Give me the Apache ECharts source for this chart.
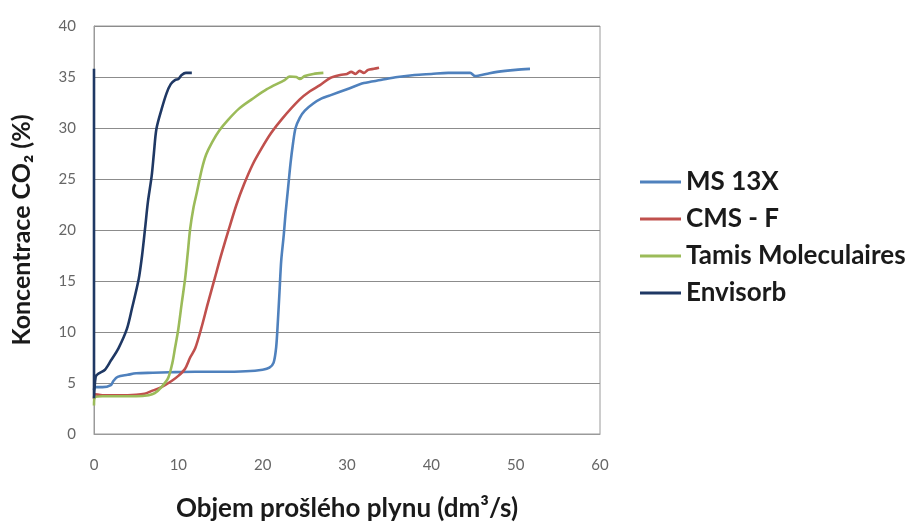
<!DOCTYPE html>
<html><head><meta charset="utf-8">
<script src="https://cdn.jsdelivr.net/npm/echarts@6/dist/echarts.min.js"></script>
<style>html,body{margin:0;padding:0;background:#fff}#c{width:908px;height:527px}</style>
</head><body><div id="c"></div>
<script>
const seriesNames = ['MS 13X', 'CMS - F', 'Tamis Moleculaires', 'Envisorb'];
const seriesColors = ['#4F81BD', '#C0504D', '#9BBB59', '#1F3864'];
const xTicks = [0, 10, 20, 30, 40, 50, 60];
const yTicks = [0, 5, 10, 15, 20, 25, 30, 35, 40];
const ms13x = [[0,4.3],[0.1,4.6],[1,4.6],[2,4.8],[2.3,5.2],[2.8,5.6],[4,5.8],[5,5.95],[7,6.0],[9,6.05],[12,6.1],[15,6.1],[18,6.15],[20,6.3],[20.8,6.5],[21.3,7.0],[21.6,8.5],[21.8,11],[22.0,14],[22.2,17],[22.5,19.5],[22.7,21.5],[23,24],[23.3,26.5],[23.6,28.5],[23.9,30],[24.4,31],[25,31.7],[26,32.4],[27,32.9],[28,33.2],[30,33.8],[32,34.4],[34,34.7],[36,35],[38,35.2],[40,35.3],[42,35.4],[44.6,35.4],[45.2,35.1],[46.5,35.3],[47.8,35.5],[50,35.7],[51.7,35.8]];
const cmsF = [[0,3.4],[0.1,3.9],[1,3.8],[3,3.8],[5,3.85],[6,3.95],[6.8,4.2],[8,4.6],[9.2,5.2],[10,5.7],[10.8,6.4],[11.4,7.5],[12,8.4],[12.7,10.3],[13.5,12.8],[14.3,15.2],[15.1,17.6],[16,20.1],[16.9,22.5],[17.8,24.5],[18.8,26.4],[19.8,27.9],[21,29.5],[22.3,30.9],[24.4,32.8],[25.6,33.6],[26.8,34.2],[28,34.9],[29.2,35.2],[30,35.3],[30.5,35.5],[31,35.3],[31.5,35.6],[32,35.4],[32.5,35.7],[33.2,35.8],[33.8,35.9]];
const tamis = [[0,2.8],[0.1,3.6],[1,3.7],[3,3.7],[5,3.7],[6.5,3.8],[7.2,4.0],[8,4.6],[8.8,5.5],[9.3,7],[9.6,8.4],[10.0,10.3],[10.4,12.8],[10.8,15.2],[11.1,17.6],[11.4,20.1],[11.8,22.2],[12.2,23.7],[12.8,26],[13.3,27.4],[14,28.6],[14.9,29.8],[15.9,30.8],[17.2,31.9],[18.7,32.8],[20.5,33.8],[22.6,34.7],[23.2,35.05],[24.0,35.0],[24.4,34.8],[25,35.1],[26,35.3],[27.2,35.4]];
const envisorb = [[0,35.8],[0,3.5],[0.2,5.6],[0.5,5.9],[1.3,6.3],[2,7.2],[2.9,8.4],[3.9,10.3],[4.5,12.3],[5.3,15.2],[5.7,17.5],[6.05,20.1],[6.4,22.8],[6.84,25.3],[7.1,27.5],[7.4,29.9],[8.0,31.8],[8.6,33.4],[9.1,34.3],[9.6,34.7],[10.0,34.8],[10.4,35.2],[10.9,35.4],[11.6,35.4]];
const allData = [ms13x, cmsF, tamis, envisorb];
const xTitle = 'Objem prošlého plynu (dm³/s)';
const yTitle = 'Koncentrace CO₂ (%)';

const FONT = 'Lato';
const chart = echarts.init(document.getElementById('c'), null, {renderer: 'canvas'});
chart.setOption({
  animation: false,
  backgroundColor: '#fff',
  grid: {left: 94, right: 308, top: 26, bottom: 91, show: true, borderColor: '#9a9a9a', borderWidth: 1},
  legend: {
    orient: 'vertical', left: 640, top: 169, itemWidth: 41, itemHeight: 3, itemGap: 11,
    icon: 'rect', padding: 0,
    data: seriesNames,
    textStyle: {fontFamily: FONT, fontWeight: 'bold', fontSize: 26, lineHeight: 26, color: '#1a1a1a'}
  },
  xAxis: {
    type: 'value', min: 0, max: 60, interval: 10,
    name: xTitle, nameLocation: 'middle', nameGap: 62,
    nameTextStyle: {fontFamily: FONT, fontWeight: 'bold', fontSize: 26, color: '#1a1a1a'},
    axisLine: {show: true, lineStyle: {color: '#9a9a9a'}},
    axisTick: {show: false},
    axisLabel: {fontFamily: FONT, fontSize: 15, color: '#666', margin: 24, formatter: v => xTicks.includes(v) ? String(v) : ''},
    splitLine: {show: false}
  },
  yAxis: {
    type: 'value', min: 0, max: 40, interval: 5,
    name: yTitle, nameLocation: 'middle', nameGap: 60,
    nameTextStyle: {fontFamily: FONT, fontWeight: 'bold', fontSize: 25, color: '#1a1a1a'},
    axisLine: {show: true, lineStyle: {color: '#9a9a9a'}},
    axisTick: {show: false},
    axisLabel: {fontFamily: FONT, fontSize: 15, color: '#666', margin: 18, formatter: v => yTicks.includes(v) ? String(v) : ''},
    splitLine: {show: true, lineStyle: {color: '#8c8c8c', width: 1}}
  },
  series: seriesNames.map((n, i) => ({
    name: n, type: 'line', data: allData[i], showSymbol: false, symbol: 'none', smooth: 0.3,
    lineStyle: {color: seriesColors[i], width: 2.6}, itemStyle: {color: seriesColors[i]}
  }))
});
</script></body></html>
